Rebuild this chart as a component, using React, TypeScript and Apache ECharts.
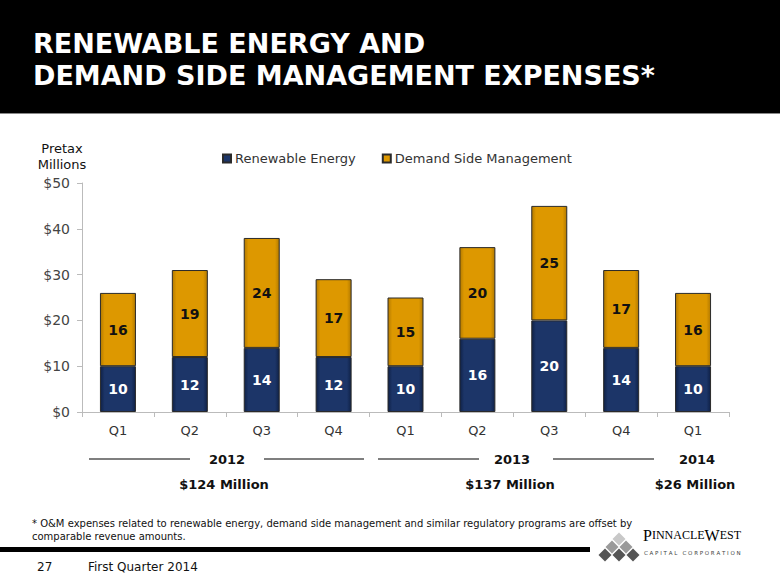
import React, { useEffect, useRef } from "react";
import * as echarts from "echarts";

const categories = ["Q1", "Q2", "Q3", "Q4", "Q1", "Q2", "Q3", "Q4", "Q1"];
const renewable = [10, 12, 14, 12, 10, 16, 20, 14, 10];
const dsm = [16, 19, 24, 17, 15, 20, 25, 17, 16];
const yTicks = [0, 10, 20, 30, 40, 50];
const yearLabels = ["2012", "2013", "2014"];
const yearTotals = ["$124 Million", "$137 Million", "$26 Million"];
const titleLines = ["RENEWABLE ENERGY AND", "DEMAND SIDE MANAGEMENT EXPENSES*"];
const footnote = [
  "* O&M expenses related to renewable energy, demand side management and similar regulatory programs are offset by",
  "comparable revenue amounts.",
];

const FONT = "DejaVu Sans";

function grad(edge: string, mid: string) {
  return new echarts.graphic.LinearGradient(0, 0, 1, 0, [
    { offset: 0, color: edge },
    { offset: 0.12, color: mid },
    { offset: 0.88, color: mid },
    { offset: 1, color: edge },
  ]);
}

export default function App() {
  const ref = useRef<HTMLDivElement>(null);
  useEffect(() => {
    if (!ref.current) return;
    const chart = echarts.init(ref.current, null, { renderer: "svg" });
    const yearX = [227, 512, 697];
    const totalX = [224, 510, 695];
    const diamonds = [
      [619, 539, "#c8c8c8"],
      [612, 547, "#9a9a9a"],
      [626, 547, "#9a9a9a"],
      [605, 555, "#555555"],
      [619, 555, "#555555"],
      [633, 555, "#555555"],
    ] as [number, number, string][];
    const graphic: any[] = [
      { type: "rect", shape: { x: 0, y: 0, width: 780, height: 113 }, style: { fill: "#000" }, silent: true },
      { type: "line", shape: { x1: 0, y1: 113.5, x2: 780, y2: 113.5 }, style: { stroke: "#888", lineWidth: 1 } },
      ...titleLines.map((t, i) => ({
        type: "text",
        x: 33,
        y: 43 + i * 32,
        style: { text: t, fill: "#fff", font: `bold 27px '${FONT}'`, textVerticalAlign: "middle" },
      })),
      {
        type: "text",
        x: 62,
        y: 156,
        style: {
          text: "Pretax\nMillions",
          fill: "#111",
          font: `13px '${FONT}'`,
          textAlign: "center",
          textVerticalAlign: "middle",
          lineHeight: 16,
        },
      },
      ...[
        [89, 190],
        [264, 364],
        [378, 479],
        [553, 654],
      ].map(([a, b]) => ({
        type: "line",
        shape: { x1: a, y1: 459, x2: b, y2: 459 },
        style: { stroke: "#555", lineWidth: 1.5 },
      })),
      ...yearLabels.map((t, i) => ({
        type: "text",
        x: yearX[i],
        y: 459,
        style: { text: t, fill: "#111", font: `bold 13px '${FONT}'`, textAlign: "center", textVerticalAlign: "middle" },
      })),
      ...yearTotals.map((t, i) => ({
        type: "text",
        x: totalX[i],
        y: 484,
        style: { text: t, fill: "#111", font: `bold 13px '${FONT}'`, textAlign: "center", textVerticalAlign: "middle" },
      })),
      ...footnote.map((t, i) => ({
        type: "text",
        x: 32,
        y: 523 + i * 13,
        style: { text: t, fill: "#111", font: `10px '${FONT}'`, textVerticalAlign: "middle" },
      })),
      { type: "rect", shape: { x: 0, y: 547, width: 590, height: 5 }, style: { fill: "#000" } },
      {
        type: "text",
        x: 37,
        y: 567,
        style: { text: "27", fill: "#111", font: `12px '${FONT}'`, textVerticalAlign: "middle" },
      },
      {
        type: "text",
        x: 88,
        y: 567,
        style: { text: "First Quarter 2014", fill: "#111", font: `12px '${FONT}'`, textVerticalAlign: "middle" },
      },
      ...diamonds.map(([cx, cy, c]) => ({
        type: "polygon",
        shape: {
          points: [
            [cx, cy - 6.5],
            [cx + 6.5, cy],
            [cx, cy + 6.5],
            [cx - 6.5, cy],
          ],
        },
        style: { fill: c },
      })),
      {
        type: "text",
        x: 643,
        y: 543,
        style: {
          text: "{b|P}{s|INNACLE}{b|W}{s|EST}",
          textVerticalAlign: "bottom",
          rich: {
            b: { fontFamily: "Liberation Serif", fontSize: 16, color: "#333" },
            s: { fontFamily: "Liberation Serif", fontSize: 12, color: "#333" },
          },
        },
      },
      {
        type: "text",
        x: 644,
        y: 553,
        style: {
          text: "C A P I T A L   C O R P O R A T I O N",
          fill: "#444",
          font: `5.5px '${FONT}'`,
          textVerticalAlign: "middle",
        },
      },
    ];

    chart.setOption({
      animation: false,
      textStyle: { fontFamily: FONT },
      legend: {
        left: 217,
        top: 147,
        itemWidth: 8,
        itemHeight: 8,
        itemGap: 26,
        icon: "rect",
        textStyle: { fontSize: 13, color: "#333", fontFamily: FONT, padding: [0, 0, 0, -1] },
        data: ["Renewable Energy", "Demand Side Management"],
      },
      grid: { left: 82, right: 51, top: 183, bottom: 173, containLabel: false },
      xAxis: {
        type: "category",
        data: categories,
        axisLine: { lineStyle: { color: "#bbb" } },
        axisTick: { show: true, lineStyle: { color: "#bbb" }, length: 5 },
        axisLabel: { color: "#333", fontSize: 13, margin: 12, fontFamily: FONT },
      },
      yAxis: {
        type: "value",
        min: yTicks[0],
        max: yTicks[yTicks.length - 1],
        interval: 10,
        axisLine: { show: true, lineStyle: { color: "#bbb" } },
        axisTick: { show: true, lineStyle: { color: "#bbb" }, length: 5 },
        splitLine: { show: false },
        axisLabel: { color: "#444", fontSize: 14, margin: 12, formatter: (v: number) => `$${v}`, fontFamily: FONT },
      },
      series: [
        {
          name: "Renewable Energy",
          type: "bar",
          stack: "total",
          barWidth: 36,
          data: renewable,
          itemStyle: { color: grad("#0f2147", "#1c3568"), borderColor: "#2a2a2a", borderWidth: 1 },
          label: { show: true, position: "inside", color: "#fff", fontWeight: "bold", fontSize: 14, fontFamily: FONT },
        },
        {
          name: "Demand Side Management",
          type: "bar",
          stack: "total",
          barWidth: 36,
          data: dsm,
          itemStyle: { color: grad("#b37a00", "#dd9800"), borderColor: "#2a2a2a", borderWidth: 1 },
          label: { show: true, position: "inside", color: "#111", fontWeight: "bold", fontSize: 14, fontFamily: FONT },
        },
      ],
      color: ["#1c3568", "#dd9800"],
      graphic,
    });
    return () => chart.dispose();
  }, []);
  return (
    <div
      ref={ref}
      style={{ position: "absolute", left: 0, top: 0, width: 780, height: 585, background: "#fff" }}
    />
  );
}
